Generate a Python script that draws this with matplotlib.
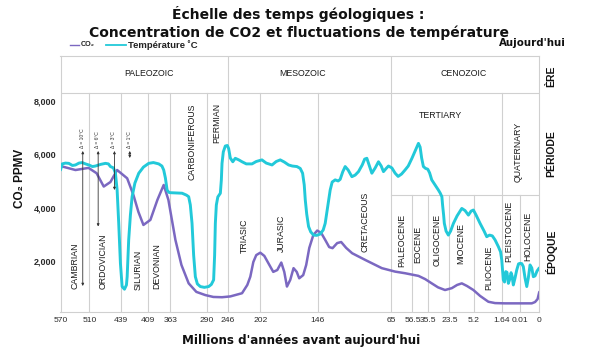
import numpy as np
import matplotlib
matplotlib.use("Agg")
import matplotlib.pyplot as plt
from matplotlib.lines import Line2D

plt.rcParams["font.family"] = ["Liberation Sans", "DejaVu Sans"]

W, H = 600, 351
PURPLE = "#7b68c1"
CYAN = "#22c9d9"
GRID = "#d0d0d0"
INK = "#1a1a1a"

# ---------------------------------------------------------------------------
# Data (ages in millions of years before present)
# ---------------------------------------------------------------------------
AGE_TICKS = [570, 510, 439, 409, 363, 290, 246, 202, 146, 65, 56.5, 35.5,
             23.5, 5.2, 1.64, 0.01, 0]
TICK_LABELS = ["570", "510", "439", "409", "363", "290", "246", "202", "146",
               "65", "56.5", "35.5", "23.5", "5.2", "1.64", "0.01", "0"]

co2_age = [570, 539, 512, 494, 478, 463, 448, 432.3, 425.3, 419.8, 414.2,
           404.3, 389.8, 376.8, 367.1, 353, 341, 326.6, 311.3, 293.4, 276.8,
           258.6, 242.9, 226.9, 219.7, 215.6, 211.5, 207.5, 202, 198.1, 194.2,
           189.4, 185.5, 181.6, 178.7, 176.1, 172.9, 169.7, 166.6, 164.2,
           160.3, 157.4, 154.4, 150.5, 146.7, 142.4, 138, 133.6, 129.9, 124.8,
           120.4, 114.9, 108.3, 94, 75.6, 63.5, 59.5, 48.6, 39.8, 33.6, 30,
           26, 21.7, 17.8, 14.3, 10.4, 5.7, 4.43, 3.36, 2.5, 1.35, 0.45,
           0.0074, 0.0039, 0.0022, 0.0009, 0]
co2_ppm = [5560, 5410, 5490, 5290, 4790, 4960, 5410, 5100, 4470, 3840, 3350,
           3540, 4290, 4850, 4290, 2790, 1850, 1160, 840, 720, 650,
           640, 670, 790, 1100, 1410, 1960, 2220, 2310, 2190, 1920,
           1590, 1660, 1940, 1590, 1040, 1290, 1730, 1590, 1350,
           1470, 1850, 2490, 2970, 3140, 3050, 2790, 2520, 2480, 2670,
           2710, 2490, 2290, 2040, 1730, 1600, 1540, 1440, 1320, 1160, 1010,
           910, 980, 1100, 1160, 1060, 910, 690, 470, 420, 410, 410,
           410, 410, 460, 570, 840]

temp_age = [570, 566.5, 559.7, 552.8, 545.2, 539, 531.7, 525.1, 518.3, 511.5,
            503.3, 496.6, 485.4, 474.2, 467.5, 463, 456.2, 451.8, 448, 444.4,
            440.6, 437.9, 435.3, 433.1, 432.3, 430.6, 428.7, 426.8, 423.7,
            419.4, 414.2, 407.8, 398.1, 387.1, 380.5, 376.8, 373.3, 369.8,
            366, 363, 351.1, 339.7, 331.2, 326.6, 323.3, 319.9, 316.7, 313.3,
            309.3, 303.4, 295.4, 286.6, 281, 276.2, 274.1, 272.6, 270.5, 267.4,
            262.1, 260, 258.6, 255.9, 251.7, 247.5, 245.2, 242.9, 239.5, 236.1,
            231.3, 226.9, 221.1, 213.3, 207.5, 200.4, 196.2, 190.6, 186.5,
            182.6, 178.7, 174.5, 170.9, 166.4, 163.2, 160.9, 159.3, 158.3,
            156.9, 155.1, 153, 150.2, 147.2, 143.5, 140.2, 138, 135.8, 132.5,
            130.3, 127, 123.7, 121.5, 118.7, 116, 112.7, 108.6, 105, 101.3,
            97.2, 94.5, 92.1, 89.6, 86.6, 82.9, 79.3, 76.3, 73.8, 70.8, 68.3,
            64.84, 63.5, 62.3, 60.9, 59.5, 58.2, 56.7, 53, 48.6, 46.4, 44.4,
            42.1, 39.2, 36.3, 34.8, 33.6, 31.7, 29.8, 28.8, 27.8, 27.4, 26.8,
            26.4, 25.4, 24.1, 22.6, 20.5, 17.8, 14.3, 11.9, 9.4, 7.4, 5.7,
            4.94, 4.43, 3.91, 3.57, 3.21, 2.85, 2.5, 2.08, 1.79, 1.64, 1.57,
            1.5, 1.39, 1.28, 1.17, 1.05, 0.945, 0.81, 0.72, 0.607, 0.455,
            0.304, 0.143, 0.01, 0.0091, 0.0083, 0.0074, 0.0065, 0.0057,
            0.0048, 0.0039, 0.0031, 0.0022, 0.0012, 0]
temp_val = [5410, 5640, 5670, 5660, 5580, 5600, 5670, 5690, 5640, 5600,
            5540, 5560, 5620, 5660, 5640, 5540, 5490, 5290, 4660, 3410,
            1910, 1040, 940, 1100, 1410, 2790, 3720, 4410, 4920,
            5290, 5520, 5660, 5690, 5640, 5560, 5410, 5110, 4660,
            4570, 4560, 4550, 4540, 4470, 4410, 4100, 3410, 2220, 1410,
            1140, 1040, 1010, 1040, 1120, 1290, 2220, 3410, 4100, 4400,
            4540, 5040, 5660, 6090, 6310, 6330, 6220, 5860, 5720, 5850,
            5790, 5720, 5640, 5640, 5730, 5790, 5670, 5600, 5730,
            5790, 5710, 5600, 5560, 5540, 5470, 5290, 4850, 4290,
            3760, 3290, 3090, 2970, 2960, 3010, 3160, 3410, 3910, 4660,
            4960, 5040, 5000, 5060, 5340, 5540, 5410, 5160, 5220, 5350,
            5600, 5820, 5850, 5600, 5290, 5490, 5720, 5560, 5350, 5470, 5560,
            5490, 5290, 5170, 5260, 5410, 5560, 5850, 6120, 6410, 6270, 5860,
            5540, 5470, 5440, 5300, 5040, 4850, 4660, 4550, 4410, 4100, 3720,
            3410, 3120, 2970, 3120, 3410, 3690, 3970, 3890, 3720, 3870, 3910,
            3720, 3410, 3120, 2910, 2970, 2940, 2790, 2540, 2340, 2040, 1660,
            1290, 1210, 1600, 1570, 1160, 1290, 1560, 1440, 1100, 1360,
            1660, 1890, 1910, 1900, 1790, 1360, 1040, 1360,
            1850, 1740, 1410, 1440, 1620, 1740]

Y_TICKS = [2000, 4000, 6000, 8000]
Y_LABELS = ["2,000", "4,000", "6,000", "8,000"]

ERAS = ["PALEOZOIC", "MESOZOIC", "CENOZOIC"]
PERIODS_UP = ["CARBONIFEROUS", "PERMIAN", "QUATERNARY"]
PERIODS_LOW = ["CAMBRIAN", "ORDOVICIAN", "SILURIAN", "DEVONIAN", "TRIASIC",
               "JURASIC", "CRETACEOUS"]
EPOCHS = ["PALEOCENE", "EOCENE", "OLIGOCENE", "MIOCENE", "PLIOCENE",
          "PLEISTOCENE", "HOLOCENE"]
DELTAS = ["Δ = 10°C", "Δ = 6°C", "Δ = 3°C", "Δ = 1°C"]

# ---------------------------------------------------------------------------
# Piecewise time scale: each tick interval gets its own width on the axis
# (distance from "today", so it grows with age)
# ---------------------------------------------------------------------------
TICK_DIST = [479.3, 450.3, 418.6, 391.6, 369.3, 332.6, 311.6, 279.3, 221.6,
             148.0, 127.0, 111.0, 90.0, 65.3, 37.6, 19.3, 0.0]
AGE_ASC = AGE_TICKS[::-1]
DIST_ASC = TICK_DIST[::-1]


def forward(a):
    return np.interp(a, AGE_ASC, DIST_ASC)


def inverse(d):
    return np.interp(d, DIST_ASC, AGE_ASC)


def fx(x):
    return x / W


def fy(y):
    return 1 - y / H


fig = plt.figure(figsize=(W / 100, H / 100), dpi=100)
ax = fig.add_axes([fx(60.5), fy(311.7), (539.3 - 60.5) / W, (311.7 - 56) / H])
ax.set_xscale("function", functions=(forward, inverse))
ax.set_xlim(570, 0)
ax.set_ylim(97, 9686)

ERA_Y = 0.8565
EPOCH_Y = 0.4564

# grid of eras / periods / epochs
for a in [510, 439, 409, 363, 290, 202, 146, 1.64]:
    ax.axvline(a, ymin=0, ymax=ERA_Y, color=GRID, lw=0.8, zorder=1)
for a in [246, 65]:
    ax.axvline(a, ymin=0, ymax=1, color=GRID, lw=0.8, zorder=1)
for a in [56.5, 35.5, 23.5, 5.2, 0.01]:
    ax.axvline(a, ymin=0, ymax=EPOCH_Y, color=GRID, lw=0.8, zorder=1)
ax.plot([0, 1], [ERA_Y, ERA_Y], transform=ax.transAxes, color=GRID, lw=0.8)
ax.plot([65, 0], [EPOCH_Y, EPOCH_Y], transform=ax.get_xaxis_transform(),
        color=GRID, lw=0.8)
for s in ax.spines.values():
    s.set_color(GRID)
    s.set_linewidth(0.8)

# curves
ax.plot(co2_age, co2_ppm, color=PURPLE, lw=1.8, solid_capstyle="round",
        solid_joinstyle="round", zorder=3)
ax.plot(temp_age, temp_val, color=CYAN, lw=2.1, solid_capstyle="round",
        solid_joinstyle="round", zorder=4)

# temperature swing arrows
arrow_ages = [523.9, 490.5, 454, 429.4]
arrow_low = [1061, 3292, 4661, 5861]
for a, low in zip(arrow_ages, arrow_low):
    ax.annotate("", xy=(a, low), xytext=(a, 6124),
                arrowprops=dict(arrowstyle="<|-|>", lw=0.6, color="#333333",
                                mutation_scale=3.5, shrinkA=0, shrinkB=0),
                zorder=5)
for x, txt in zip([82.3, 97.7, 113.8, 129.3], DELTAS):
    fig.text(fx(x), fy(148), txt, rotation=90, ha="center", va="bottom",
             fontsize=3.6, color="#333333")

# axes ticks
ax.set_xticks(AGE_TICKS, TICK_LABELS)
ax.set_yticks(Y_TICKS, Y_LABELS)
ax.tick_params(axis="x", length=0, pad=4, labelsize=6.1, labelcolor="#2a2a2a")
ax.tick_params(axis="y", length=0, pad=3, labelsize=6.5, labelcolor="#2a2a2a")
for lbl in ax.get_yticklabels():
    lbl.set_fontweight("bold")

# era / period / epoch labels
for txt, x in zip(ERAS, [149, 302.7, 463.3]):
    fig.text(fx(x), fy(73.3), txt, ha="center", va="center", fontsize=6.3,
             color=INK)
fig.text(fx(440), fy(115), "TERTIARY", ha="center", va="center",
         fontsize=6.3, color=INK)
vert_pos = {
    "CARBONIFEROUS": (191.7, 141.7), "PERMIAN": (216.7, 123),
    "QUATERNARY": (517.7, 151.7),
    "CAMBRIAN": (75, 266), "ORDOVICIAN": (102.7, 261.7),
    "SILURIAN": (138.3, 270), "DEVONIAN": (156.7, 266),
    "TRIASIC": (244.3, 235.5), "JURASIC": (281.7, 233.5),
    "CRETACEOUS": (365, 222),
    "PALEOCENE": (401.7, 240), "EOCENE": (417.3, 244),
    "OLIGOCENE": (437.3, 240), "MIOCENE": (461, 244),
    "PLIOCENE": (488.3, 267.5), "PLEISTOCENE": (509, 231.7),
    "HOLOCENE": (527.7, 236.7),
}
for txt in PERIODS_UP + PERIODS_LOW + EPOCHS:
    x, y = vert_pos[txt]
    fig.text(fx(x), fy(y), txt, rotation=90, ha="center", va="center",
             fontsize=6.3, color=INK)

# row headings on the right
for txt, y in [("ÈRE", 76), ("PÉRIODE", 154), ("ÉPOQUE", 252)]:
    fig.text(fx(551), fy(y), txt, rotation=90, ha="center", va="center",
             fontsize=7.5, fontweight="bold", color="#111111")

# titles and labels
TITLE_FONT = ["DejaVu Sans"]
fig.text(fx(298), fy(18.5), "Échelle des temps géologiques :", ha="center",
         va="baseline", fontsize=10, fontweight="bold", color="#111111",
         family=TITLE_FONT)
fig.text(fx(299), fy(36.7),
         "Concentration de CO2 et fluctuations de température", ha="center",
         va="baseline", fontsize=10, fontweight="bold", color="#111111",
         family=TITLE_FONT)
fig.text(fx(566), fy(46), "Aujourd'hui", ha="right", va="baseline",
         fontsize=7.4, fontweight="bold", color="#111111", family=TITLE_FONT)
fig.text(fx(20), fy(178), "CO₂ PPMV", rotation=90, ha="center", va="center",
         fontsize=8.5, fontweight="bold", color="#111111")
fig.text(fx(301), fy(344), "Millions d'années avant aujourd'hui", ha="center",
         va="baseline", fontsize=8.6, fontweight="bold", color="#111111",
         family=TITLE_FONT)

# legend (drawn by hand: the two keys have different lengths)
fig.add_artist(Line2D([fx(70), fx(79.3)], [fy(45), fy(45)], color=PURPLE,
                      lw=1.0, transform=fig.transFigure))
fig.text(fx(80.7), fy(45), "CO₂", ha="left", va="center", fontsize=5.2,
         fontweight="bold", color="#222222")
fig.add_artist(Line2D([fx(105.7), fx(126)], [fy(45), fy(45)], color=CYAN,
                      lw=1.3, transform=fig.transFigure))
fig.text(fx(127.7), fy(45), "Température ˚C", ha="left", va="center",
         fontsize=6.8, fontweight="bold", color="#222222")

fig.savefig("out.png", dpi=100)
